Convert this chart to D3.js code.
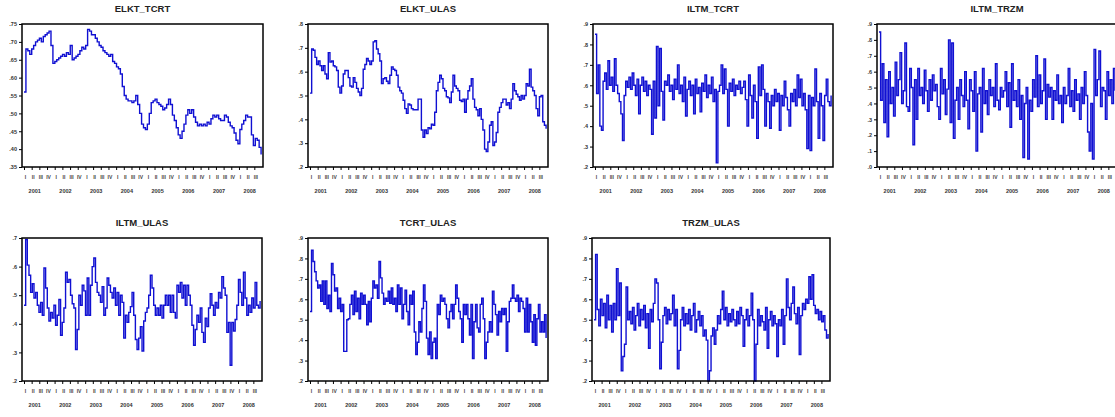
<!DOCTYPE html>
<html>
<head>
<meta charset="utf-8">
<script src="https://cdn.jsdelivr.net/npm/d3@7"></script>
<style>
  html, body { margin: 0; padding: 0; background: #ffffff; }
  svg { display: block; }
  text { font-family: "Liberation Sans", Arial, sans-serif; }
</style>
</head>
<body>
<svg id="chart" width="1115" height="417"></svg>
<script>
// ---------------- DATA ----------------
const titles = ["ELKT_TCRT", "ELKT_ULAS", "ILTM_TCRT", "ILTM_TRZM", "ILTM_ULAS", "TCRT_ULAS", "TRZM_ULAS"];
const years = ["2001", "2002", "2003", "2004", "2005", "2006", "2007", "2008"];
const quarterLabels = ["I", "II", "III", "IV"];
const sampleStart = 2001.0;
const sampleEnd = 2008.72;

const ticksElktTcrt = [0.35, 0.40, 0.45, 0.50, 0.55, 0.60, 0.65, 0.70, 0.75];
const ticksElktUlas = [0.2, 0.3, 0.4, 0.5, 0.6, 0.7, 0.8];
const ticksIltmTcrt = [0.2, 0.3, 0.4, 0.5, 0.6, 0.7, 0.8, 0.9];
const ticksIltmTrzm = [0.0, 0.1, 0.2, 0.3, 0.4, 0.5, 0.6, 0.7, 0.8, 0.9];
const ticksIltmUlas = [0.2, 0.3, 0.4, 0.5, 0.6, 0.7];
const ticksTcrtUlas = [0.2, 0.3, 0.4, 0.5, 0.6, 0.7, 0.8, 0.9];
const ticksTrzmUlas = [0.2, 0.3, 0.4, 0.5, 0.6, 0.7, 0.8, 0.9];

const elktTcrt = [.56,.68,.675,.665,.68,.69,.70,.705,.71,.70,.715,.72,.725,.73,.69,.64,.645,.65,.655,.66,
  .665,.66,.67,.665,.69,.65,.655,.66,.665,.675,.685,.68,.69,.735,.73,.72,.72,.71,.70,.69,
  .685,.675,.67,.665,.66,.665,.645,.64,.63,.625,.61,.575,.55,.54,.535,.535,.53,.535,.55,.525,
  .50,.47,.46,.455,.47,.50,.53,.535,.54,.53,.525,.52,.51,.515,.525,.54,.525,.495,.48,.46,
  .44,.43,.45,.47,.495,.51,.50,.51,.49,.475,.465,.47,.465,.47,.465,.475,.47,.485,.495,.49,
  .495,.485,.48,.48,.495,.49,.475,.465,.46,.445,.425,.415,.455,.47,.48,.495,.49,.49,.44,.41,
  .43,.425,.405,.385];

const elktUlas = [.51,.695,.69,.66,.63,.645,.625,.605,.625,.59,.57,.68,.64,.645,.625,.62,.605,.535,.51,.54,
  .59,.605,.605,.575,.54,.535,.575,.555,.53,.515,.50,.53,.61,.63,.655,.645,.63,.645,.725,.73,
  .695,.675,.645,.55,.57,.575,.56,.55,.585,.62,.61,.605,.585,.535,.52,.51,.48,.445,.425,.465,
  .46,.445,.44,.44,.44,.485,.485,.355,.325,.355,.34,.365,.36,.38,.375,.43,.52,.555,.585,.57,
  .53,.52,.495,.49,.47,.515,.585,.54,.53,.52,.48,.475,.485,.43,.485,.52,.54,.57,.485,.45,
  .44,.415,.445,.40,.355,.275,.265,.305,.375,.39,.29,.305,.345,.43,.45,.47,.485,.485,.46,.47,
  .445,.485,.55,.52,.505,.495,.48,.50,.485,.50,.55,.54,.61,.535,.52,.50,.445,.415,.495,.50,
  .39,.375,.36];

const iltmTcrt = [.85,.56,.70,.40,.38,.62,.66,.58,.72,.60,.64,.57,.73,.60,.56,.52,.46,.33,.55,
  .62,.59,.64,.58,.66,.60,.55,.63,.46,.60,.64,.57,.62,.55,.60,.58,.36,.62,.44,
  .79,.50,.78,.57,.43,.62,.60,.65,.57,.60,.53,.63,.58,.70,.56,.60,.52,.64,.45,
  .58,.62,.55,.60,.46,.63,.56,.59,.47,.61,.57,.65,.54,.60,.56,.64,.52,.58,.22,
  .57,.60,.70,.56,.68,.58,.40,.61,.57,.63,.55,.60,.58,.62,.56,.59,.62,.53,.40,
  .65,.55,.44,.60,.52,.34,.69,.55,.70,.58,.40,.56,.52,.39,.55,.50,.58,.52,.56,
  .38,.55,.50,.62,.54,.48,.40,.56,.52,.58,.50,.65,.54,.63,.50,.56,.48,.29,.55,
  .28,.54,.50,.68,.52,.34,.56,.50,.33,.55,.63,.52,.50,.55];

const iltmTrzm = [.85,.42,.65,.28,.55,.19,.60,.40,.50,.32,.66,.45,.55,.72,.40,.48,.78,.38,.35,
  .62,.50,.14,.55,.30,.62,.45,.50,.40,.61,.48,.35,.55,.42,.58,.48,.52,.38,.30,
  .62,.46,.55,.33,.49,.80,.28,.78,.18,.42,.50,.30,.55,.45,.38,.60,.42,.24,.55,
  .48,.35,.60,.10,.46,.50,.22,.62,.40,.48,.33,.55,.45,.50,.38,.65,.42,.36,.50,
  .44,.48,.60,.38,.53,.25,.65,.42,.48,.38,.55,.30,.45,.06,.40,.50,.05,.42,.35,
  .55,.44,.70,.38,.58,.40,.48,.68,.30,.52,.44,.50,.30,.48,.42,.58,.40,.45,.28,
  .50,.40,.45,.62,.38,.48,.35,.55,.42,.46,.30,.50,.40,.60,.45,.22,.10,.40,.05,
  .74,.45,.55,.73,.38,.50,.48,.30,.60,.45,.55,.40,.62,.48];

const iltmUlas = [.465,.695,.605,.57,.51,.54,.49,.51,.465,.44,.475,.43,.595,.525,.455,.41,.44,.42,.465,.395,
  .43,.485,.36,.405,.455,.58,.545,.555,.50,.47,.455,.31,.38,.50,.465,.535,.515,.43,.56,.43,
  .535,.60,.63,.545,.51,.50,.475,.53,.43,.455,.56,.535,.51,.49,.525,.465,.51,.43,.50,.475,
  .35,.43,.405,.44,.46,.51,.43,.345,.31,.35,.39,.305,.41,.44,.455,.50,.57,.525,.465,.43,
  .455,.43,.465,.42,.465,.50,.465,.50,.44,.50,.44,.42,.535,.51,.545,.49,.535,.465,.535,.50,
  .465,.395,.325,.38,.43,.405,.455,.37,.335,.42,.39,.455,.505,.465,.43,.475,.455,.51,.49,.565,
  .525,.50,.37,.405,.255,.405,.375,.415,.465,.555,.51,.465,.58,.49,.43,.465,.44,.49,.455,.545,
  .465,.455,.48];

const tcrtUlas = [.54,.84,.785,.735,.69,.655,.67,.59,.69,.575,.69,.555,.62,.54,.775,.72,.64,.655,.555,.605,
  .54,.575,.345,.345,.50,.505,.575,.62,.525,.64,.54,.605,.505,.63,.575,.62,.575,.475,.59,.49,
  .605,.69,.655,.67,.605,.785,.705,.63,.575,.605,.59,.64,.58,.655,.575,.605,.54,.67,.575,.655,
  .505,.575,.645,.54,.475,.62,.575,.64,.44,.33,.39,.49,.44,.555,.67,.59,.41,.33,.44,.31,
  .39,.41,.31,.575,.525,.62,.59,.605,.575,.505,.46,.54,.575,.505,.575,.67,.605,.54,.505,.39,
  .575,.525,.575,.505,.425,.575,.31,.49,.575,.46,.44,.575,.605,.505,.31,.39,.44,.49,.44,.64,
  .575,.525,.425,.54,.49,.555,.525,.555,.345,.49,.59,.605,.67,.605,.59,.62,.54,.605,.59,.555,
  .44,.605,.44,.575,.49,.39,.525,.375,.505,.575,.44,.49,.44,.525,.41];

const trzmUlas = [.50,.82,.55,.47,.60,.52,.58,.46,.62,.50,.57,.44,.58,.50,.75,.52,.68,.25,.32,
  .38,.66,.50,.54,.48,.56,.45,.52,.58,.47,.55,.50,.57,.46,.53,.36,.55,.49,.58,
  .70,.68,.50,.26,.39,.52,.56,.48,.55,.50,.53,.62,.47,.55,.26,.35,.50,.56,.47,
  .53,.48,.55,.45,.52,.58,.44,.50,.54,.47,.52,.42,.45,.40,.20,.25,.42,.46,.38,
  .45,.52,.48,.55,.64,.50,.56,.47,.53,.49,.55,.50,.47,.54,.48,.56,.52,.37,.50,
  .55,.47,.52,.63,.50,.20,.38,.55,.47,.52,.49,.45,.56,.36,.50,.54,.47,.52,.48,
  .32,.50,.47,.55,.38,.52,.70,.56,.50,.58,.66,.53,.48,.56,.33,.52,.58,.55,.60,
  .58,.71,.60,.72,.57,.53,.55,.50,.54,.49,.52,.45,.41,.43];

// ---------------- LAYOUT ----------------
const panels = [
  { title: titles[0], values: elktTcrt, ticks: ticksElktTcrt, fmt: ".2f", left: 22,  top: 24,  w: 241, h: 143 },
  { title: titles[1], values: elktUlas, ticks: ticksElktUlas, fmt: ".1f", left: 308, top: 24,  w: 240, h: 143 },
  { title: titles[2], values: iltmTcrt, ticks: ticksIltmTcrt, fmt: ".1f", left: 593, top: 24,  w: 240, h: 143 },
  { title: titles[3], values: iltmTrzm, ticks: ticksIltmTrzm, fmt: ".1f", left: 877, top: 24,  w: 240, h: 143 },
  { title: titles[4], values: iltmUlas, ticks: ticksIltmUlas, fmt: ".1f", left: 22,  top: 238, w: 240, h: 143 },
  { title: titles[5], values: tcrtUlas, ticks: ticksTcrtUlas, fmt: ".1f", left: 308, top: 238, w: 240, h: 143 },
  { title: titles[6], values: trzmUlas, ticks: ticksTrzmUlas, fmt: ".1f", left: 592, top: 238, w: 238, h: 143 }
];

const svg = d3.select("#chart");
svg.append("rect").attr("width", 1115).attr("height", 417).attr("fill", "#ffffff");

const lineColor = "#1010d2";
const quarterStarts = [];
years.forEach((y, yi) => quarterLabels.forEach((q, qi) => {
  const t = +y + qi * 0.25;
  if (t < sampleEnd) quarterStarts.push({ t, label: q });
}));

panels.forEach(p => {
  const g = svg.append("g");
  const x = d3.scaleLinear().domain([sampleStart, 2008.75]).range([p.left + 2, p.left + p.w - 1]);
  const y = d3.scaleLinear().domain([p.ticks[0], p.ticks[p.ticks.length - 1]]).range([p.top + p.h, p.top]);
  const n = p.values.length;
  const dates = p.values.map((v, i) => sampleStart + (sampleEnd - sampleStart) * i / (n - 1));

  // title
  g.append("text")
    .attr("x", p.left + p.w / 2).attr("y", p.top - 12)
    .attr("text-anchor", "middle")
    .attr("font-size", "9.5px").attr("font-weight", "bold").attr("fill", "#222")
    .text(p.title);

  // data line (step style, like the weekly series in the original)
  const line = d3.line().curve(d3.curveStepAfter).x((d, i) => x(dates[i])).y(d => y(d));
  g.append("path").datum(p.values)
    .attr("d", line)
    .attr("fill", "none").attr("stroke", lineColor).attr("stroke-width", 1.4);

  // y axis
  const fmt = d3.format(p.fmt);
  const yAxis = d3.axisLeft(y).tickValues(p.ticks).tickSize(3).tickPadding(2)
    .tickFormat(d => fmt(d).replace(/^0/, ""));
  const ya = g.append("g").attr("transform", `translate(${p.left},0)`).call(yAxis);
  ya.select(".domain").remove();
  ya.selectAll("line").attr("stroke", "#000").attr("stroke-width", 1);
  ya.selectAll("text").attr("font-size", "5.5px").attr("fill", "#333").attr("font-weight", "bold");

  // x axis (quarters)
  const xAxis = d3.axisBottom(x).tickValues(quarterStarts.map(d => d.t)).tickSize(3).tickPadding(5)
    .tickFormat((d, i) => quarterStarts[i].label);
  const xa = g.append("g").attr("transform", `translate(0,${p.top + p.h})`).call(xAxis);
  xa.select(".domain").remove();
  xa.selectAll("line").attr("stroke", "#000").attr("stroke-width", 1);
  xa.selectAll("text").attr("font-size", "5px").attr("fill", "#444").attr("font-weight", "bold")
    .attr("dx", "1px");

  // year labels
  g.selectAll(".yr").data(years).enter().append("text")
    .attr("x", d => x(+d + 0.35)).attr("y", p.top + p.h + 26)
    .attr("text-anchor", "middle")
    .attr("font-size", "5.5px").attr("font-weight", "bold").attr("fill", "#333")
    .text(d => d);

  // frame
  g.append("rect")
    .attr("x", p.left).attr("y", p.top).attr("width", p.w).attr("height", p.h)
    .attr("fill", "none").attr("stroke", "#000").attr("stroke-width", 1.5);
});
</script>
</body>
</html>
